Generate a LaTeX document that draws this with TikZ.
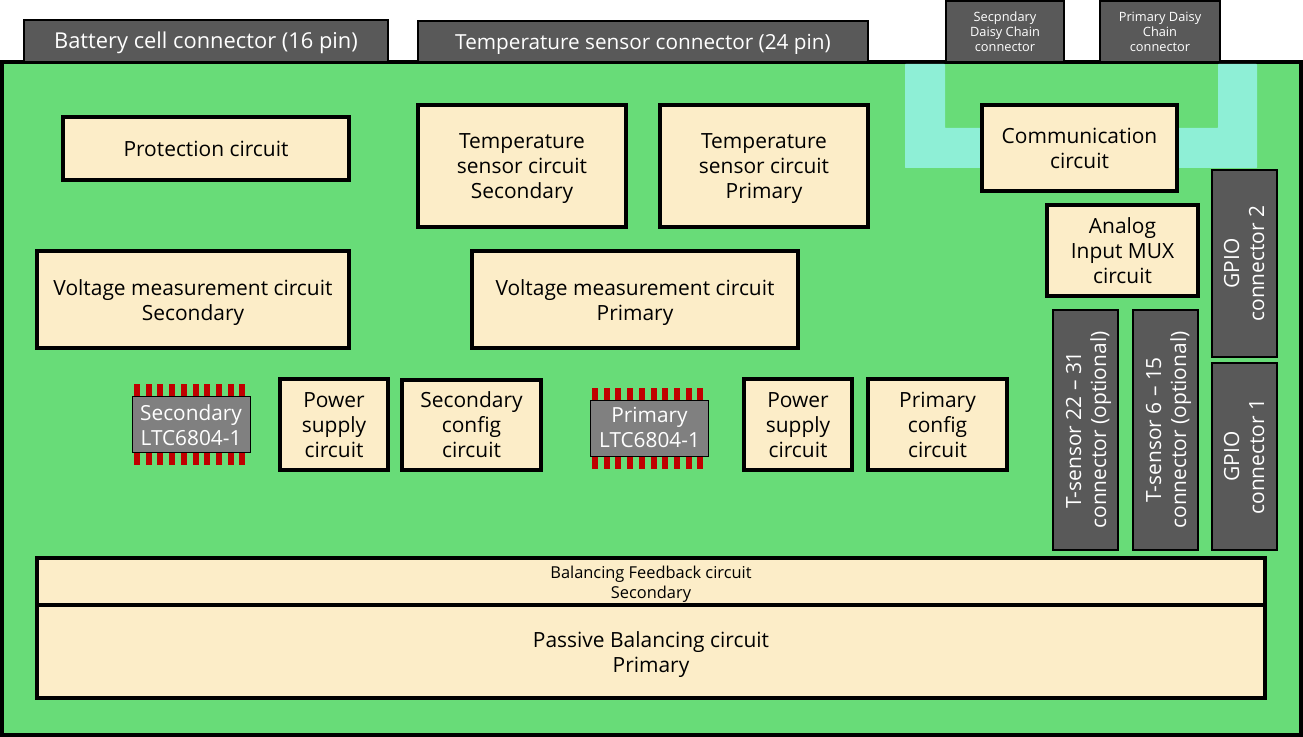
\documentclass[tikz,border=0pt]{standalone}
\usepackage{fontspec}
\setmainfont{Open Sans}
\definecolor{boardgreen}{HTML}{68DC78}
\definecolor{circuitcream}{HTML}{FCEDC8}
\definecolor{portgray}{HTML}{595959}
\definecolor{chipgray}{HTML}{808080}
\definecolor{pinred}{HTML}{C00000}
\definecolor{bandteal}{HTML}{8EEFD6}
\tikzset{
  circuitbox/.style={draw=black, line width=3pt, fill=circuitcream, text=black, outer sep=0pt, inner sep=0pt,
    font=\fontsize{15.7}{18.75}\selectfont},
  portbox/.style={draw=black, line width=1.5pt, fill=portgray, text=white, outer sep=0pt, inner sep=0pt,
    font=\fontsize{15.7}{18.75}\selectfont},
  smallport/.style={portbox, font=\fontsize{9.6}{11.25}\selectfont},
  smalltext/.style={font=\fontsize{12.3}{15}\selectfont},
  widetext/.style={font=\fontsize{16.4}{18.75}\selectfont},
  chipbox/.style={draw=black, line width=0.75pt, fill=chipgray, text=white, outer sep=0pt, inner sep=0pt,
    font=\fontsize{15.6}{18.75}\selectfont},
  pinbar/.style={fill=pinred, draw=none}
}
% Place a block from its corners, given in pixels of the reference; [n] lowers its text by n pixels
\newcommand{\blockat}[8][1]{%
  \pgfmathsetmacro{\bw}{(#6-#4)*0.75}%
  \pgfmathsetmacro{\bh}{(#7-#5)*0.75}%
  \pgfmathsetmacro{\bd}{#1*0.75}%
  \node[#2, minimum width=\bw pt, minimum height=\bh pt] (#3) at ({(#4+#6)/2},{(#5+#7)/2})
    {\raisebox{-\bd pt}[\height][\depth]{\begin{tabular}{@{}c@{}}#8\end{tabular}}};%
}
% Same, for the tall blocks whose text runs upwards
\newcommand{\tallblockat}[8][1]{%
  \pgfmathsetmacro{\bw}{(#6-#4)*0.75}%
  \pgfmathsetmacro{\bh}{(#7-#5)*0.75}%
  \pgfmathsetmacro{\bd}{#1*0.75}%
  \node[#2, rotate=90, minimum width=\bh pt, minimum height=\bw pt] (#3) at ({(#4+#6)/2},{(#5+#7)/2})
    {\raisebox{-\bd pt}[\height][\depth]{\begin{tabular}{@{}c@{}}#8\end{tabular}}};%
}
\begin{document}
\begin{tikzpicture}[x=0.75pt, y=-0.75pt, line join=miter]
  \useasboundingbox (0,0) rectangle (1303,737);

  % Board
  \node[draw=black, line width=3pt, fill=boardgreen, outer sep=0pt, inner sep=0pt,
    minimum width=974.25pt, minimum height=504.75pt] (board) at (651.5,398.5) {};

  % Daisy chain band, behind the communication block
  \fill[bandteal, rounded corners=0.5pt] (905,64) -- (945,64) -- (945,128) -- (1218,128) -- (1218,64)
    -- (1257,64) -- (1257,168) -- (905,168) -- cycle;

  % Connectors on the top edge
  \blockat[3]{portbox, widetext}{batteryport}{24}{20}{388}{62}{Battery cell connector (16 pin)}
  \blockat[3]{portbox, font=\fontsize{15.55}{18.75}\selectfont}{tempport}{418}{21}{868}{62}{Temperature sensor connector (24 pin)}
  \blockat[2]{smallport}{secdaisy}{946}{1}{1064}{62}{Secpndary\\Daisy Chain\\connector}
  \blockat[2]{smallport}{pridaisy}{1100}{1}{1220}{62}{Primary Daisy\\Chain\\connector}

  % Circuit blocks
  \blockat[3]{circuitbox}{protection}{63}{117}{349}{180}{Protection circuit}
  \blockat[3]{circuitbox}{tempsec}{418}{105}{626}{227}{Temperature\\sensor circuit\\Secondary}
  \blockat[3]{circuitbox}{temppri}{660}{105}{868}{227}{Temperature\\sensor circuit\\Primary}
  \blockat[3]{circuitbox}{comm}{982}{105}{1177}{191}{Communication\\circuit}
  \blockat[3]{circuitbox}{analog}{1047}{205}{1198}{296}{Analog\\Input MUX\\circuit}
  \blockat[4]{circuitbox}{voltsec}{37}{251}{349}{348}{Voltage measurement circuit\\Secondary}
  \blockat[4]{circuitbox}{voltpri}{472}{251}{798}{348}{Voltage measurement circuit\\Primary}
  \blockat[3]{circuitbox}{powersec}{280}{379}{388}{470}{Power\\supply\\circuit}
  \blockat[3]{circuitbox}{configsec}{402}{380}{541}{470}{Secondary\\config\\circuit}
  \blockat[3]{circuitbox}{powerpri}{744}{379}{852}{470}{Power\\supply\\circuit}
  \blockat[3]{circuitbox}{configpri}{868}{379}{1007}{470}{Primary\\config\\circuit}

  % Balancing blocks share one edge
  \blockat[3]{circuitbox, smalltext}{feedback}{37}{558}{1265}{605}{Balancing Feedback circuit\\Secondary}
  \blockat[3]{circuitbox}{passive}{37}{605}{1265}{698}{Passive Balancing circuit\\Primary}

  % Tall connectors on the right
  \tallblockat[3]{portbox}{tsensora}{1053}{310}{1118}{550}{T-sensor 22 -- 31\\connector (optional)}
  \tallblockat[3]{portbox}{tsensorb}{1133}{310}{1198}{550}{T-sensor 6 -- 15\\connector (optional)}
  \tallblockat[2]{portbox}{gpiotwo}{1212}{170}{1277}{357}{GPIO\\connector 2}
  \tallblockat[2]{portbox}{gpioone}{1212}{363}{1277}{550}{GPIO\\connector 1}

  % Pins of both chips, then the bodies on top
  \foreach \i in {0,...,9} {
    \pgfmathsetmacro{\px}{134+11.7*\i}
    \fill[pinbar] (\px,384) rectangle ++(6,81);
    \fill[pinbar] ({\px+458},388) rectangle ++(6,81);
  }
  \blockat[3]{chipbox}{chipsec}{132}{397}{250}{453}{Secondary\\LTC6804-1}
  \blockat[2]{chipbox}{chippri}{590.5}{400.5}{708.5}{456.5}{Primary\\LTC6804-1}
\end{tikzpicture}
\end{document}
